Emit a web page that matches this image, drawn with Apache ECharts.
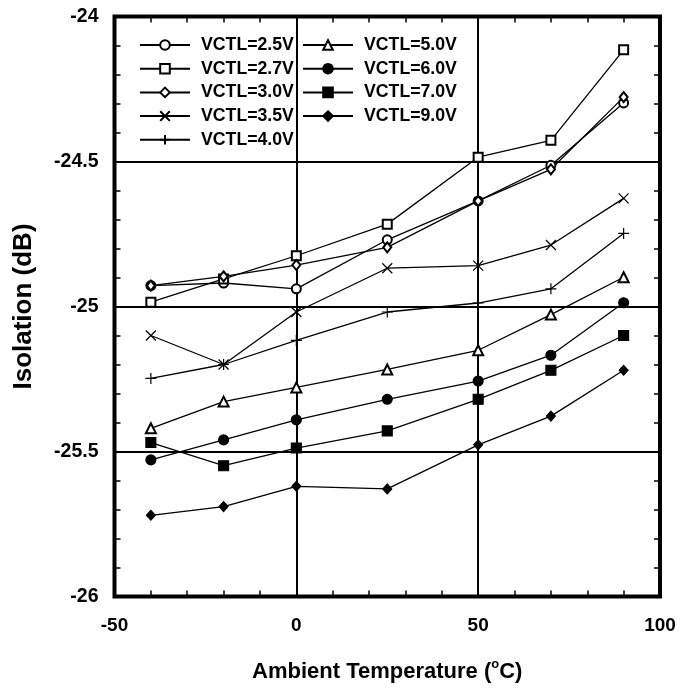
<!DOCTYPE html>
<html>
<head>
<meta charset="utf-8">
<script src="https://cdn.jsdelivr.net/npm/echarts@6/dist/echarts.min.js"></script>
<style>
html,body{margin:0;padding:0;background:#fff;}
#chart{width:682px;height:688px;}
</style>
</head>
<body>
<div id="chart"></div>
<script>
// Data
var temps = [-40, -20, 0, 25, 50, 70, 90];
var seriesNames = ['VCTL=2.5V', 'VCTL=2.7V', 'VCTL=3.0V', 'VCTL=3.5V', 'VCTL=4.0V',
                   'VCTL=5.0V', 'VCTL=6.0V', 'VCTL=7.0V', 'VCTL=9.0V'];
var v25 = [-24.928, -24.919, -24.939, -24.770, -24.636, -24.513, -24.298];
var v27 = [-24.985, -24.905, -24.825, -24.716, -24.485, -24.427, -24.115];
var v30 = [-24.928, -24.896, -24.857, -24.796, -24.636, -24.527, -24.278];
var v35 = [-25.100, -25.200, -25.019, -24.868, -24.859, -24.788, -24.627];
var v40 = [-25.248, -25.200, -25.117, -25.019, -24.988, -24.939, -24.748];
var v50 = [-25.420, -25.328, -25.279, -25.217, -25.151, -25.028, -24.899];
var v60 = [-25.529, -25.460, -25.391, -25.320, -25.257, -25.168, -24.987];
var v70 = [-25.469, -25.549, -25.488, -25.429, -25.320, -25.220, -25.100];
var v90 = [-25.720, -25.690, -25.620, -25.629, -25.477, -25.378, -25.220];
var xTicks = [-50, 0, 50, 100];
var yTicks = [-26, -25.5, -25, -24.5, -24];

var allValues = [v25, v27, v30, v35, v40, v50, v60, v70, v90];
var symbols = ['emptyCircle', 'emptyRect', 'emptyDiamond',
  'path://M0,0L10,10M10,0L0,10', 'path://M5,0L5,10M0,5L10,5',
  'emptyTriangle', 'circle', 'rect', 'diamond'];
var sizes = [9, 9, [8, 10], 10, 11, 10, 10, 10, [9, 10]];

var FONT = '"Liberation Sans", Arial, sans-serif';

function pairs(vals) {
  return temps.map(function (t, i) { return [t, vals[i]]; });
}

var series = seriesNames.map(function (n, k) {
  var isPath = symbols[k].indexOf('path://') === 0;
  return {
    name: n,
    type: 'line',
    data: pairs(allValues[k]),
    symbol: symbols[k],
    symbolSize: sizes[k],
    symbolKeepAspect: false,
    lineStyle: { color: '#000', width: 1.3 },
    itemStyle: isPath ? { color: 'none', borderColor: '#000', borderWidth: 1.2 }
                      : { color: '#000', borderColor: '#000', borderWidth: 1.1 },
    emphasis: { disabled: true },
    animation: false,
    z: 5
  };
});

var chart = echarts.init(document.getElementById('chart'), null, { renderer: 'canvas' });

var legendCommon = {
  orient: 'vertical',
  padding: 0,
  itemWidth: 50,
  itemHeight: 12,
  itemGap: 5.7,
  selectedMode: false,
  textStyle: { fontFamily: FONT, fontWeight: 'bold', fontSize: 17.7, color: '#000', lineHeight: 17, padding: [0, 0, 0, 6] }
};

var tickCommon = {
  axisLine: { show: false, onZero: false },
  axisTick: { show: true, inside: true, length: 8, lineStyle: { color: '#000', width: 2 } },
  minorTick: { show: true, splitNumber: 5, length: 6, lineStyle: { color: '#000', width: 1.5 } }
};

chart.setOption({
  backgroundColor: '#fff',
  animation: false,
  grid: { left: 114.5, right: 22, top: 16.5, bottom: 89.5, show: true, borderColor: '#000', borderWidth: 4, backgroundColor: 'transparent', z: 10 },
  legend: [
    Object.assign({}, legendCommon, { left: 139, top: 36, data: seriesNames.slice(0, 5) }),
    Object.assign({}, legendCommon, { left: 302, top: 36, data: seriesNames.slice(5) })
  ],
  xAxis: [Object.assign({
    type: 'value', min: xTicks[0], max: xTicks[xTicks.length - 1], interval: 50,
    position: 'bottom',
    splitLine: { show: true, lineStyle: { color: '#000', width: 2 } },
    axisLabel: { fontFamily: FONT, fontWeight: 'bold', fontSize: 19, color: '#000', margin: 20 },
    name: 'Ambient Temperature ({sup|o}C)',
    nameLocation: 'middle',
    nameGap: 61,
    nameTextStyle: {
      fontFamily: FONT, fontWeight: 'bold', fontSize: 22, color: '#000',
      rich: { sup: { fontFamily: FONT, fontWeight: 'bold', fontSize: 13, color: '#000', verticalAlign: 'top', padding: [0, 0, 16, 0] } }
    }
  }, tickCommon), Object.assign({
    type: 'value', min: xTicks[0], max: xTicks[xTicks.length - 1], interval: 50,
    position: 'top',
    splitLine: { show: false },
    axisLabel: { show: false }
  }, tickCommon)],
  yAxis: [Object.assign({
    type: 'value', min: yTicks[0], max: yTicks[yTicks.length - 1], interval: 0.5,
    position: 'left',
    splitLine: { show: true, lineStyle: { color: '#000', width: 2 } },
    axisLabel: { fontFamily: FONT, fontWeight: 'bold', fontSize: 19.5, color: '#000', margin: 16 },
    name: 'Isolation (dB)',
    nameLocation: 'middle',
    nameGap: 78,
    nameTextStyle: { fontFamily: FONT, fontWeight: 'bold', fontSize: 26, color: '#000' }
  }, tickCommon), Object.assign({
    type: 'value', min: yTicks[0], max: yTicks[yTicks.length - 1], interval: 0.5,
    position: 'right',
    splitLine: { show: false },
    axisLabel: { show: false }
  }, tickCommon)],
  series: series
});
</script>
</body>
</html>
